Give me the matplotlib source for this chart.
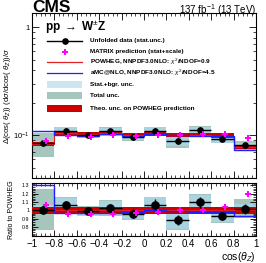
import numpy as np
import matplotlib
matplotlib.use('Agg')
import matplotlib.pyplot as plt
from matplotlib.patches import Rectangle
from matplotlib.lines import Line2D
from matplotlib.ticker import MultipleLocator, LogLocator, NullFormatter, FixedLocator

plt.rcParams['font.family'] = ['Liberation Sans', 'DejaVu Sans']
plt.rcParams['mathtext.fontset'] = 'custom'
plt.rcParams['mathtext.rm'] = 'Liberation Sans'
plt.rcParams['mathtext.it'] = 'Liberation Sans:italic'
plt.rcParams['mathtext.bf'] = 'Liberation Sans:bold'
plt.rcParams['axes.linewidth'] = 0.8

# ---------------- data ----------------
bin_edges = [-1.0, -0.8, -0.6, -0.4, -0.2, 0.0, 0.2, 0.4, 0.6, 0.8, 1.0]
powheg = [0.083, 0.104, 0.1015, 0.105, 0.100, 0.103, 0.101, 0.101, 0.099, 0.078]
data = [0.084, 0.110, 0.100, 0.108, 0.096, 0.110, 0.089, 0.111, 0.092, 0.080]
matrix = [0.089, 0.099, 0.096, 0.100, 0.097, 0.101, 0.101, 0.102, 0.103, 0.094]
amc = [0.108, 0.101, 0.098, 0.102, 0.097, 0.103, 0.100, 0.099, 0.097, 0.073]
data_stat_rel = [0.05, 0.05, 0.04, 0.05, 0.06, 0.06, 0.07, 0.06, 0.05, 0.06]
stat_bgr_rel = [0.05, 0.08, 0.055, 0.085, 0.07, 0.08, 0.12, 0.08, 0.075, 0.05]
total_rel = [0.25, 0.09, 0.065, 0.095, 0.08, 0.09, 0.14, 0.09, 0.085, 0.11]
theo_rel = 0.045

ratio_data = [1.01, 1.06, 0.99, 1.03, 0.96, 1.07, 0.88, 1.10, 0.93, 1.02]
ratio_matrix = [1.07, 0.95, 0.95, 0.95, 0.97, 0.98, 1.00, 1.01, 1.04, 1.20]
ratio_amc = [1.30, 0.97, 0.97, 0.97, 0.98, 1.00, 0.99, 0.98, 0.98, 0.935]
ratio_powheg = [1.0] * 10

edges = np.array(bin_edges)
centers = 0.5 * (edges[:-1] + edges[1:])
widths = np.diff(edges)

c_total = '#a4c6bc'
c_stat = '#aad6e8'
c_theo = '#cc0000'
c_red = '#e02020'
c_blue = '#2020ff'
c_mag = '#ff00ff'

W, H = 266, 263
fig = plt.figure(figsize=(W / 100, H / 100), dpi=100)
L, R = 32 / W, 256 / W
ax1 = fig.add_axes([L, 1 - 178 / H, R - L, (178 - 13) / H])
ax2 = fig.add_axes([L, 1 - 236 / H, R - L, (236 - 183) / H])


def draw_panel(ax, central, pred, mc, am, msize):
    central = np.array(central)
    pred = np.array(pred)
    tot = np.array(total_rel)
    sb = np.array(stat_bgr_rel)
    ax.bar(centers, 2 * tot * central, bottom=central * (1 - tot), width=widths,
           color=c_total, linewidth=0, zorder=1)
    ax.bar(centers, 2 * sb * central, bottom=central * (1 - sb), width=widths,
           color=c_stat, alpha=0.85, linewidth=0, zorder=2)
    ax.bar(centers, 2 * theo_rel * pred, bottom=pred * (1 - theo_rel), width=widths,
           color=c_theo, linewidth=0, zorder=3)
    ax.stairs(pred, edges, baseline=None, color=c_red, lw=0.8, zorder=4)
    ax.stairs(am, edges, baseline=None, color=c_blue, lw=1.0, zorder=5)
    ax.errorbar(centers, central, xerr=widths / 2,
                yerr=np.array(data_stat_rel) * central,
                fmt='o', color='black', ms=msize, lw=1.0, capsize=0, zorder=6)
    ax.plot(centers + 0.025, mc, 'P', color=c_mag, ms=4.8, mew=0, zorder=7)


draw_panel(ax1, data, powheg, matrix, amc, 3.8)
draw_panel(ax2, ratio_data, ratio_powheg, ratio_matrix, ratio_amc, 5.2)

# main axes
ax1.set_yscale('log')
ax1.set_xlim(-1, 1)
ax1.set_ylim(0.04, 1.35)
ax1.yaxis.set_major_locator(FixedLocator([0.1, 1.0]))
ax1.set_yticklabels([r'$10^{-1}$', '1'], fontsize=5.5)
ax1.yaxis.set_minor_locator(LogLocator(base=10, subs=np.arange(2, 10)))
ax1.yaxis.set_minor_formatter(NullFormatter())
ax1.xaxis.set_major_locator(MultipleLocator(0.2))
ax1.xaxis.set_minor_locator(MultipleLocator(0.04))
ax1.tick_params(labelbottom=False)
ax1.set_ylabel(r'$\Delta$(cos( $\theta_{Z}$)) (d$\sigma$/dcos( $\theta_{Z}$))/$\sigma$',
               fontsize=5.6)
ax1.yaxis.set_label_coords(-0.083, 0.5)

# ratio axes
ax2.set_xlim(-1, 1)
ax2.set_ylim(0.69, 1.33)
ax2.yaxis.set_major_locator(FixedLocator([0.8, 0.9, 1.0, 1.1, 1.2, 1.3]))
ax2.set_yticklabels(['0.8', '0.9', '1', '1.1', '1.2', '1.3'], fontsize=3.8)
ax2.yaxis.set_minor_locator(MultipleLocator(0.02))
ax2.xaxis.set_minor_locator(MultipleLocator(0.04))
ax2.set_xticks(np.round(np.arange(-1, 1.01, 0.2), 1))
ax2.set_xticklabels(['\u22121', '\u22120.8', '\u22120.6', '\u22120.4', '\u22120.2', '0',
                     '0.2', '0.4', '0.6', '0.8', '1'], fontsize=7)
ax2.set_ylabel('Ratio to POWHEG', fontsize=5)
ax2.yaxis.set_label_coords(-0.075, 0.5)
ax2.set_xlabel(r'cos($\theta_{Z}$)', fontsize=7.5, loc='right', labelpad=1)

for ax, ml, mn in ((ax1, 5, 2.5), (ax2, 4, 2)):
    ax.tick_params(which='both', direction='in', top=True, right=True, pad=2)
    ax.tick_params(which='major', length=ml, width=0.6)
    ax.tick_params(which='minor', length=mn, width=0.5)

# legend (drawn manually in axes coordinates)
T = ax1.transAxes
ax1.text(0.058, 0.915, r'pp $\rightarrow$ W$^{\pm}$Z', transform=T, fontsize=8.5,
         fontweight='bold', va='center', ha='left')
hx0, hx1, tx = 0.066, 0.2245, 0.259
hm = 0.5 * (hx0 + hx1)
rows = [0.832, 0.765, 0.701, 0.636, 0.564, 0.499, 0.422]
labels = ['Unfolded data (stat.unc.)', 'MATRIX prediction (stat+scale)',
          r'POWHEG, NNPDF3.0NLO: $\chi^{2}$/NDOF=0.9',
          r'aMC@NLO, NNPDF3.0NLO: $\chi^{2}$/NDOF=4.5',
          'Stat.+bgr. unc.', 'Total unc.', 'Theo. unc. on POWHEG prediction']
for y, lab in zip(rows, labels):
    ax1.text(tx, y, lab, transform=T, fontsize=4.6, fontweight='bold', va='center', ha='left')
ax1.add_line(Line2D([hx0, hx1], [rows[0]] * 2, transform=T, color='black', lw=1.0))
ax1.add_line(Line2D([hm], [rows[0]], transform=T, marker='o', color='black', ms=3.8))
ax1.add_line(Line2D([hm], [rows[1]], transform=T, marker='P', color=c_mag, ms=4.8, mew=0))
ax1.add_line(Line2D([hx0, hx1], [rows[2]] * 2, transform=T, color=c_red, lw=0.9))
ax1.add_line(Line2D([hx0, hx1], [rows[3]] * 2, transform=T, color=c_blue, lw=0.9))
ph = 0.042
for y, col, a in ((rows[4], c_stat, 0.6), (rows[5], c_total, 1.0), (rows[6], c_theo, 1.0)):
    ax1.add_patch(Rectangle((hx0, y - ph / 2), hx1 - hx0, ph, transform=T,
                            facecolor=col, alpha=a, linewidth=0))

fig.text(32 / W, 1 - 0.5 / H, 'CMS', fontsize=12.5, fontweight='bold', va='top', ha='left')
fig.text(256 / W, 1 - 2 / H, r'137 fb$^{-1}$ (13 TeV)', fontsize=7, va='top', ha='right')

fig.savefig('out.png', dpi=100)
